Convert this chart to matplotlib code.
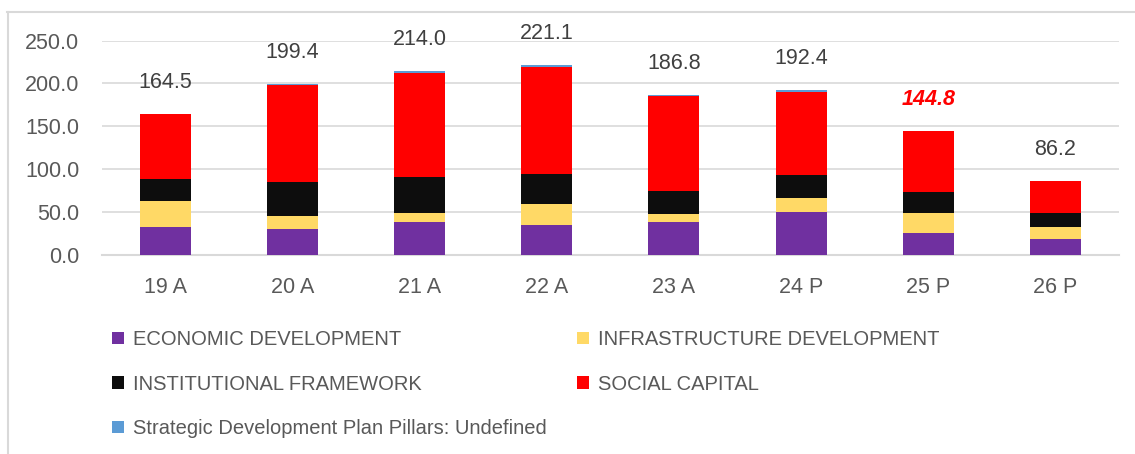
import numpy as np
import matplotlib
matplotlib.use('Agg')
import matplotlib.pyplot as plt
from matplotlib.lines import Line2D

plt.rcParams['font.family'] = ['Liberation Sans', 'DejaVu Sans']

# data
years = ['19 A', '20 A', '21 A', '22 A', '23 A', '24 P', '25 P', '26 P']
eco = [32.0, 30.4, 37.8, 34.7, 38.2, 49.9, 25.7, 18.3]
infra = [30.4, 14.8, 11.0, 24.6, 9.4, 16.4, 23.1, 13.3]
inst = [25.7, 39.8, 42.1, 35.1, 26.9, 26.1, 24.5, 16.4]
social = [76.4, 113.5, 121.7, 124.4, 111.1, 97.5, 71.4, 38.2]
undef = [0.0, 0.9, 1.4, 2.3, 1.2, 2.5, 0.1, 0.0]
highlight = '25 P'

names = ['ECONOMIC DEVELOPMENT', 'INFRASTRUCTURE DEVELOPMENT',
         'INSTITUTIONAL FRAMEWORK', 'SOCIAL CAPITAL',
         'Strategic Development Plan Pillars: Undefined']
colors = ['#7030A0', '#FFD966', '#0D0D0D', '#FF0000', '#5B9BD5']
series = [eco, infra, inst, social, undef]

fig = plt.figure(figsize=(11.35, 4.54), dpi=100)
ax = fig.add_axes([0.0896, 0.4394, 0.8963, 0.471])

x = np.arange(len(years))
bottom = np.zeros(len(years))
bars = []
for vals, col, nm in zip(series, colors, names):
    b = ax.bar(x, vals, bottom=bottom, width=0.4, color=col, label=nm, zorder=3)
    bars.append(b)
    bottom = bottom + np.array(vals)

# total labels
for xi, tot, yr in zip(x, bottom, years):
    if yr == highlight:
        ax.annotate('%.1f' % tot, (xi, tot), xytext=(0, 31.5), textcoords='offset pixels',
                    ha='center', va='center', fontsize=15.5, color='#FF0000',
                    fontweight='bold', fontstyle='italic', annotation_clip=False)
    else:
        ax.annotate('%.1f' % tot, (xi, tot), xytext=(0, 31.5), textcoords='offset pixels',
                    ha='center', va='center', fontsize=15.5, color='#404040',
                    annotation_clip=False)

ax.set_ylim(0, 250)
ax.set_xlim(-0.5, len(years) - 0.5)
ax.set_yticks(np.arange(0, 251, 50))
ax.set_yticklabels(['%.1f' % v for v in np.arange(0, 251, 50)])
ax.set_xticks(x)
ax.set_xticklabels(years)
ax.tick_params(axis='both', length=0, labelsize=15.5, labelcolor='#595959')
ax.tick_params(axis='y', pad=16)
ax.tick_params(axis='x', pad=16)
ax.grid(axis='y', color='#d9d9d9', linewidth=1.2, zorder=0)
for s in ['top', 'right', 'left']:
    ax.spines[s].set_visible(False)
ax.spines['bottom'].set_color('#d9d9d9')
ax.spines['bottom'].set_linewidth(1.5)

# legend (column-first fill)
order = [0, 2, 4, 1, 3]
fig.legend([bars[i] for i in order], [names[i] for i in order],
           loc='upper left', bbox_to_anchor=(112 / 1135, 1 - 330 / 454),
           ncol=2, frameon=False, fontsize=14.5, labelcolor='#595959',
           handlelength=0.6, handleheight=0.6, handletextpad=0.45,
           labelspacing=1.27, columnspacing=1.5, borderpad=0, borderaxespad=0)

# chart frame
fig.add_artist(Line2D([7 / 1135, 1], [1 - 12 / 454, 1 - 12 / 454],
                      color='#d9d9d9', linewidth=1.5, transform=fig.transFigure))
fig.add_artist(Line2D([7.5 / 1135, 7.5 / 1135], [0, 1 - 12 / 454],
                      color='#d9d9d9', linewidth=1.5, transform=fig.transFigure))

fig.savefig('out.png', dpi=100)
